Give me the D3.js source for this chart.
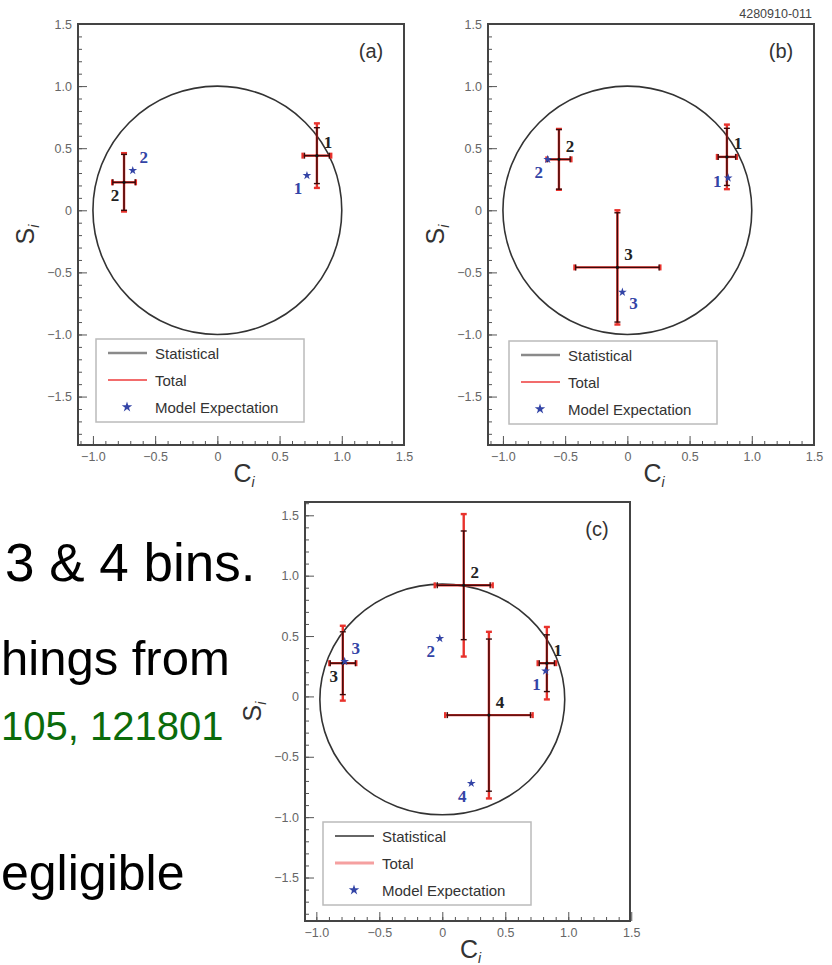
<!DOCTYPE html>
<html>
<head>
<meta charset="utf-8">
<script src="https://cdn.jsdelivr.net/npm/d3@7"></script>
<style>
    html, body { margin: 0; padding: 0; background: #fff; }
    svg { display: block; }
</style>
</head>
<body>
<div id="chart"></div>
<script>
// values (c_i, s_i per bin, symmetric errors)
const xTicks = [-1.0, -0.5, 0, 0.5, 1.0, 1.5];
const yTicks = [-1.5, -1.0, -0.5, 0, 0.5, 1.0, 1.5];
const legendLabels = ['Statistical', 'Total', 'Model Expectation'];
const panelTags = ['(a)', '(b)', '(c)'];

// panel (a): 2 bins
const binsA = ['1', '2'];
const cA = [0.80, -0.75];
const sA = [0.44, 0.225];
const cStatA = [0.10, 0.09];
const sStatA = [0.225, 0.225];
const cTotA = [0.115, 0.095];
const sTotA = [0.26, 0.235];
const cModelA = [0.72, -0.68];
const sModelA = [0.28, 0.32];
const ringA = [0, 0, 1, 1];

// panel (b): 3 bins
const binsB = ['1', '2', '3'];
const cB = [0.80, -0.55, -0.08];
const sB = [0.43, 0.41, -0.46];
const cStatB = [0.07, 0.09, 0.335];
const sStatB = [0.23, 0.24, 0.44];
const cTotB = [0.08, 0.10, 0.345];
const sTotB = [0.26, 0.245, 0.46];
const cModelB = [0.81, -0.64, -0.04];
const sModelB = [0.26, 0.41, -0.66];
const ringB = [0, 0, 1, 1];

// panel (c): 4 bins
const binsC = ['1', '2', '3', '4'];
const cC = [0.83, 0.17, -0.79, 0.37];
const sC = [0.275, 0.92, 0.275, -0.155];
const cStatC = [0.06, 0.21, 0.10, 0.33];
const sStatC = [0.235, 0.45, 0.26, 0.63];
const cTotC = [0.073, 0.23, 0.107, 0.347];
const sTotC = [0.30, 0.59, 0.31, 0.69];
const cModelC = [0.82, -0.02, -0.775, 0.23];
const sModelC = [0.21, 0.48, 0.29, -0.72];
const ringC = [0, -0.025, 0.972, 0.955];

// layout only
const layouts = [
    { left: 78, right: 404, top: 24, bottom: 445, xDomain: [-1.12, 1.5], yDomain: [-1.89, 1.5], legend: [96, 339], thinStat: false,
      blackDir: ['ne', 'sw'], blueDir: ['sw', 'ne'] },
    { left: 488, right: 814, top: 24, bottom: 445, xDomain: [-1.12, 1.5], yDomain: [-1.89, 1.5], legend: [509, 341], thinStat: false,
      blackDir: ['ne', 'ne', 'ne'], blueDir: ['w', 'sw', 'se'] },
    { left: 305, right: 630, top: 502, bottom: 921, xDomain: [-1.09, 1.49], yDomain: [-1.86, 1.61], legend: [323, 822], thinStat: true,
      blackDir: ['ne', 'ne', 'sw', 'ne'], blueDir: ['sw', 'sw', 'ne', 'sw'] }
];

const labelOffset = { ne: [11, -13], se: [11, 11], sw: [-9, 13], nw: [-9, -12], w: [-11, 4] };

const SANS = '"Liberation Sans", Arial, Helvetica, sans-serif';
const SERIF = '"Liberation Serif", "Times New Roman", serif';
const RED = '#e8322c';
const DARK = '#3b0a0a';
const BLUE = '#3344a6';

class PhasePlot {
    constructor(svg, layout, tag, data) {
        this.svg = svg;
        this.L = layout;
        this.tag = tag;
        this.data = data;
        this.init();
    }

    init() {
        const L = this.L;
        this.x = d3.scaleLinear().domain(L.xDomain).range([L.left, L.right]);
        this.y = d3.scaleLinear().domain(L.yDomain).range([L.bottom, L.top]);
        this.g = this.svg.append('g');
        this.drawAxes();
        this.drawRing();
        this.drawPoints();
        this.drawLegend();
        this.drawTitles();
    }

    drawAxes() {
        const { x, y, L, g } = this;
        const fmt = d => d === 0 ? '0' : d3.format('.1f')(d);
        const minor = dom => d3.range(Math.ceil(dom[0] * 10), Math.floor(dom[1] * 10) + 1).map(k => k / 10);

        const styleAxis = a => {
            a.select('.domain').remove();
            a.selectAll('line').attr('stroke', '#555').attr('stroke-width', 1);
            a.attr('font-family', SANS).attr('font-size', 12.5);
            a.selectAll('text').attr('fill', '#666');
        };

        g.append('g')
            .attr('transform', `translate(0,${L.bottom})`)
            .call(d3.axisBottom(x).tickValues(minor(L.xDomain)).tickSize(-4).tickFormat(''))
            .call(styleAxis);
        g.append('g')
            .attr('transform', `translate(0,${L.bottom})`)
            .call(d3.axisBottom(x).tickValues(xTicks).tickSize(-9).tickPadding(7).tickFormat(fmt))
            .call(styleAxis);

        g.append('g')
            .attr('transform', `translate(${L.left},0)`)
            .call(d3.axisLeft(y).tickValues(minor(L.yDomain)).tickSize(-4).tickFormat(''))
            .call(styleAxis);
        g.append('g')
            .attr('transform', `translate(${L.left},0)`)
            .call(d3.axisLeft(y).tickValues(yTicks).tickSize(-9).tickPadding(6).tickFormat(fmt))
            .call(styleAxis);

        // frame
        g.append('rect')
            .attr('x', L.left)
            .attr('y', L.top)
            .attr('width', L.right - L.left)
            .attr('height', L.bottom - L.top)
            .attr('fill', 'none')
            .attr('stroke', '#444')
            .attr('stroke-width', 2);
    }

    drawRing() {
        const { x, y, g } = this;
        const [cx, cy, rx, ry] = this.data.ring;
        g.append('ellipse')
            .attr('cx', x(cx))
            .attr('cy', y(cy))
            .attr('rx', x(cx + rx) - x(cx))
            .attr('ry', y(cy) - y(cy + ry))
            .attr('fill', 'none')
            .attr('stroke', '#333')
            .attr('stroke-width', 1.6);
    }

    drawPoints() {
        const { x, y, g, L } = this;
        const d = this.data;
        const pts = d.bins.map((b, i) => ({
            bin: b, c: d.c[i], s: d.s[i],
            cStat: d.cStat[i], sStat: d.sStat[i],
            cTot: d.cTot[i], sTot: d.sTot[i],
            cModel: d.cModel[i], sModel: d.sModel[i],
            blackDir: L.blackDir[i], blueDir: L.blueDir[i]
        }));

        const bars = (ec, es, color, width, cap) => {
            const sel = g.append('g').selectAll('g').data(pts).enter().append('g')
                .attr('stroke', color).attr('stroke-width', width);
            sel.append('line')
                .attr('x1', p => x(p.c - ec(p))).attr('x2', p => x(p.c + ec(p)))
                .attr('y1', p => y(p.s)).attr('y2', p => y(p.s));
            sel.append('line')
                .attr('x1', p => x(p.c)).attr('x2', p => x(p.c))
                .attr('y1', p => y(p.s - es(p))).attr('y2', p => y(p.s + es(p)));
            // end caps
            [-1, 1].forEach(k => {
                sel.append('line')
                    .attr('x1', p => x(p.c + k * ec(p))).attr('x2', p => x(p.c + k * ec(p)))
                    .attr('y1', p => y(p.s) - cap).attr('y2', p => y(p.s) + cap);
                sel.append('line')
                    .attr('x1', p => x(p.c) - cap).attr('x2', p => x(p.c) + cap)
                    .attr('y1', p => y(p.s + k * es(p))).attr('y2', p => y(p.s + k * es(p)));
            });
        };

        bars(p => p.cTot, p => p.sTot, RED, 2.4, 3);
        bars(p => p.cStat, p => p.sStat, DARK, 1.4, 3);

        g.append('g').selectAll('circle').data(pts).enter().append('circle')
            .attr('cx', p => x(p.c)).attr('cy', p => y(p.s)).attr('r', 1.6)
            .attr('fill', '#111');

        // model expectation stars
        const star = d3.symbol().type(d3.symbolStar).size(24);
        g.append('g').selectAll('path').data(pts).enter().append('path')
            .attr('d', star)
            .attr('transform', p => `translate(${x(p.cModel)},${y(p.sModel)})`)
            .attr('fill', BLUE);

        // bin numbers
        g.append('g').selectAll('text').data(pts).enter().append('text')
            .attr('x', p => x(p.c) + labelOffset[p.blackDir][0])
            .attr('y', p => y(p.s) + labelOffset[p.blackDir][1])
            .attr('text-anchor', 'middle')
            .attr('dominant-baseline', 'central')
            .attr('font-family', SERIF)
            .attr('font-size', 17)
            .attr('font-weight', 'bold')
            .attr('fill', '#222')
            .text(p => p.bin);

        g.append('g').selectAll('text').data(pts).enter().append('text')
            .attr('x', p => x(p.cModel) + labelOffset[p.blueDir][0])
            .attr('y', p => y(p.sModel) + labelOffset[p.blueDir][1])
            .attr('text-anchor', 'middle')
            .attr('dominant-baseline', 'central')
            .attr('font-family', SERIF)
            .attr('font-size', 17)
            .attr('font-weight', 'bold')
            .attr('fill', BLUE)
            .text(p => p.bin);
    }

    drawLegend() {
        const L = this.L;
        const [lx, ly] = L.legend;
        const lg = this.g.append('g').attr('transform', `translate(${lx},${ly})`);

        lg.append('rect')
            .attr('width', 208).attr('height', 83)
            .attr('fill', '#fff')
            .attr('stroke', '#bbb')
            .attr('stroke-width', 1.5);

        const statStyle = L.thinStat ? ['#333', 1.3] : ['#8a8a8a', 2.6];
        const totStyle = L.thinStat ? ['#f5a0a0', 3] : ['#ee3b3b', 1.3];

        lg.append('line').attr('x1', 12).attr('x2', 51).attr('y1', 14).attr('y2', 14)
            .attr('stroke', statStyle[0]).attr('stroke-width', statStyle[1]);
        lg.append('line').attr('x1', 12).attr('x2', 51).attr('y1', 41).attr('y2', 41)
            .attr('stroke', totStyle[0]).attr('stroke-width', totStyle[1]);
        lg.append('path')
            .attr('d', d3.symbol().type(d3.symbolStar).size(34))
            .attr('transform', 'translate(31,68)')
            .attr('fill', BLUE);

        lg.selectAll('text.lbl').data(legendLabels).enter().append('text')
            .attr('class', 'lbl')
            .attr('x', 59)
            .attr('y', (d, i) => 20 + i * 27)
            .attr('font-family', SANS)
            .attr('font-size', 15)
            .attr('fill', '#333')
            .text(d => d);
    }

    drawTitles() {
        const { L, g } = this;
        const midX = (L.left + L.right) / 2 + 3;
        const midY = (L.top + L.bottom) / 2;

        const xt = g.append('text')
            .attr('x', midX).attr('y', L.bottom + 37)
            .attr('text-anchor', 'middle')
            .attr('font-family', SANS).attr('font-size', 25).attr('fill', '#333');
        xt.append('tspan').text('C');
        xt.append('tspan').attr('font-size', 14).attr('font-style', 'italic').attr('dy', 5).text('i');

        const yt = g.append('text')
            .attr('transform', `translate(${L.left - 44},${midY}) rotate(-90)`)
            .attr('text-anchor', 'middle')
            .attr('font-family', SANS).attr('font-size', 25).attr('fill', '#333');
        yt.append('tspan').text('S');
        yt.append('tspan').attr('font-size', 14).attr('font-style', 'italic').attr('dy', 5).text('i');

        g.append('text')
            .attr('x', L.right - 33).attr('y', L.top + 34)
            .attr('text-anchor', 'middle')
            .attr('font-family', SANS).attr('font-size', 20).attr('fill', '#333')
            .text(this.tag);
    }
}

const svg = d3.select('#chart').append('svg')
    .attr('width', 832)
    .attr('height', 965);
svg.append('rect').attr('width', 832).attr('height', 965).attr('fill', '#fff');

// slide text beside the figures
const slideText = svg.append('g').attr('font-family', SANS);
slideText.append('text').attr('x', 5).attr('y', 581).attr('font-size', 53).attr('fill', '#000').text('3 & 4 bins.');
slideText.append('text').attr('x', 1).attr('y', 675).attr('font-size', 49).attr('fill', '#000').text('hings from');
slideText.append('text').attr('x', 1).attr('y', 740).attr('font-size', 40).attr('fill', '#0b6b0b').text('105, 121801');
slideText.append('text').attr('x', 1).attr('y', 890).attr('font-size', 50).attr('fill', '#000').text('egligible');

svg.append('text')
    .attr('x', 812).attr('y', 18)
    .attr('text-anchor', 'end')
    .attr('font-family', SANS).attr('font-size', 12.5).attr('fill', '#444')
    .text('4280910-011');

new PhasePlot(svg, layouts[0], panelTags[0], {
    bins: binsA, c: cA, s: sA, cStat: cStatA, sStat: sStatA, cTot: cTotA, sTot: sTotA,
    cModel: cModelA, sModel: sModelA, ring: ringA
});
new PhasePlot(svg, layouts[1], panelTags[1], {
    bins: binsB, c: cB, s: sB, cStat: cStatB, sStat: sStatB, cTot: cTotB, sTot: sTotB,
    cModel: cModelB, sModel: sModelB, ring: ringB
});
new PhasePlot(svg, layouts[2], panelTags[2], {
    bins: binsC, c: cC, s: sC, cStat: cStatC, sStat: sStatC, cTot: cTotC, sTot: sTotC,
    cModel: cModelC, sModel: sModelC, ring: ringC
});
</script>
</body>
</html>
